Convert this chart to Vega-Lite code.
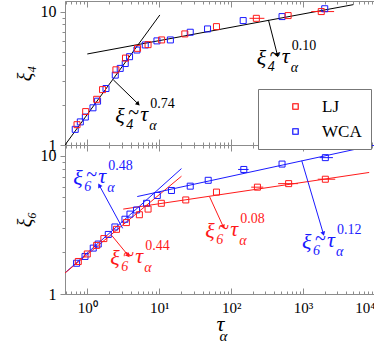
{
  "$schema": "https://vega.github.io/schema/vega-lite/v6.json",
  "background": "white",
  "padding": {"left": 14, "top": 0, "right": 0, "bottom": 0},
  "config": {
    "view": {"stroke": "#8c8c8c", "strokeWidth": 1},
    "font": "Liberation Serif",
    "axis": {"domainColor": "#8c8c8c", "tickColor": "#8c8c8c", "grid": false, "labelFont": "Liberation Serif", "labelColor": "black", "titleFont": "Liberation Serif", "titleFontWeight": "normal", "titleColor": "black"},
    "legend": {"symbolBaseFillColor": "transparent"},
    "concat": {"spacing": 0}
  },
  "datasets": {
    "pts": [
      {"panel": "top", "series": "WCA", "tau": 0.68, "xi": 1.31},
      {"panel": "top", "series": "WCA", "tau": 0.80, "xi": 1.49},
      {"panel": "top", "series": "WCA", "tau": 0.94, "xi": 1.62},
      {"panel": "top", "series": "WCA", "tau": 1.2, "xi": 1.9},
      {"panel": "top", "series": "WCA", "tau": 1.39, "xi": 2.13},
      {"panel": "top", "series": "WCA", "tau": 1.82, "xi": 2.65},
      {"panel": "top", "series": "WCA", "tau": 2.45, "xi": 3.34},
      {"panel": "top", "series": "WCA", "tau": 2.87, "xi": 3.75},
      {"panel": "top", "series": "WCA", "tau": 3.37, "xi": 4.08},
      {"panel": "top", "series": "WCA", "tau": 3.87, "xi": 4.59},
      {"panel": "top", "series": "WCA", "tau": 4.9, "xi": 5.15},
      {"panel": "top", "series": "WCA", "tau": 6.4, "xi": 5.62},
      {"panel": "top", "series": "WCA", "tau": 9.3, "xi": 6.03},
      {"panel": "top", "series": "WCA", "tau": 14.3, "xi": 6.13},
      {"panel": "top", "series": "WCA", "tau": 27, "xi": 7.0},
      {"panel": "top", "series": "WCA", "tau": 47, "xi": 7.41},
      {"panel": "top", "series": "WCA", "tau": 147, "xi": 8.56},
      {"panel": "top", "series": "WCA", "tau": 510, "xi": 9.17},
      {"panel": "top", "series": "WCA", "tau": 2000, "xi": 10.5},
      {"panel": "top", "series": "LJ", "tau": 0.72, "xi": 1.42},
      {"panel": "top", "series": "LJ", "tau": 0.95, "xi": 1.78},
      {"panel": "top", "series": "LJ", "tau": 1.35, "xi": 2.2},
      {"panel": "top", "series": "LJ", "tau": 1.63, "xi": 2.6},
      {"panel": "top", "series": "LJ", "tau": 2.5, "xi": 3.66},
      {"panel": "top", "series": "LJ", "tau": 3.4, "xi": 4.48},
      {"panel": "top", "series": "LJ", "tau": 5.0, "xi": 5.3},
      {"panel": "top", "series": "LJ", "tau": 7.0, "xi": 5.65},
      {"panel": "top", "series": "LJ", "tau": 10.8, "xi": 6.13},
      {"panel": "top", "series": "LJ", "tau": 22.7, "xi": 6.8},
      {"panel": "top", "series": "LJ", "tau": 62.5, "xi": 7.71},
      {"panel": "top", "series": "LJ", "tau": 224, "xi": 8.9, "lo": 180, "hi": 290},
      {"panel": "top", "series": "LJ", "tau": 620, "xi": 9.33},
      {"panel": "top", "series": "LJ", "tau": 1790, "xi": 10.0, "lo": 1300, "hi": 2700},
      {"panel": "bot", "series": "WCA", "tau": 0.71, "xi": 1.67},
      {"panel": "bot", "series": "WCA", "tau": 0.93, "xi": 1.87},
      {"panel": "bot", "series": "WCA", "tau": 1.21, "xi": 2.15},
      {"panel": "bot", "series": "WCA", "tau": 1.42, "xi": 2.3},
      {"panel": "bot", "series": "WCA", "tau": 1.96, "xi": 2.7},
      {"panel": "bot", "series": "WCA", "tau": 2.42, "xi": 3.06},
      {"panel": "bot", "series": "WCA", "tau": 3.34, "xi": 3.48},
      {"panel": "bot", "series": "WCA", "tau": 3.92, "xi": 3.79},
      {"panel": "bot", "series": "WCA", "tau": 4.84, "xi": 4.06},
      {"panel": "bot", "series": "WCA", "tau": 6.67, "xi": 4.54},
      {"panel": "bot", "series": "WCA", "tau": 9.4, "xi": 5.17},
      {"panel": "bot", "series": "WCA", "tau": 14.8, "xi": 5.62},
      {"panel": "bot", "series": "WCA", "tau": 27, "xi": 6.04},
      {"panel": "bot", "series": "WCA", "tau": 48, "xi": 6.66},
      {"panel": "bot", "series": "WCA", "tau": 150, "xi": 7.98, "lo": 125, "hi": 175},
      {"panel": "bot", "series": "WCA", "tau": 510, "xi": 8.73},
      {"panel": "bot", "series": "WCA", "tau": 2040, "xi": 9.72, "lo": 1700, "hi": 2600},
      {"panel": "bot", "series": "LJ", "tau": 0.75, "xi": 1.72},
      {"panel": "bot", "series": "LJ", "tau": 1.0, "xi": 1.95},
      {"panel": "bot", "series": "LJ", "tau": 1.35, "xi": 2.25},
      {"panel": "bot", "series": "LJ", "tau": 1.7, "xi": 2.52},
      {"panel": "bot", "series": "LJ", "tau": 2.55, "xi": 2.94},
      {"panel": "bot", "series": "LJ", "tau": 3.5, "xi": 3.29},
      {"panel": "bot", "series": "LJ", "tau": 5.3, "xi": 3.75},
      {"panel": "bot", "series": "LJ", "tau": 7.0, "xi": 4.12},
      {"panel": "bot", "series": "LJ", "tau": 10.7, "xi": 4.54},
      {"panel": "bot", "series": "LJ", "tau": 23.4, "xi": 4.8},
      {"panel": "bot", "series": "LJ", "tau": 62.5, "xi": 5.47},
      {"panel": "bot", "series": "LJ", "tau": 232, "xi": 5.94, "lo": 190, "hi": 280},
      {"panel": "bot", "series": "LJ", "tau": 630, "xi": 6.3, "lo": 450, "hi": 850},
      {"panel": "bot", "series": "LJ", "tau": 2040, "xi": 6.78, "lo": 1600, "hi": 2800}
    ],
    "fits": [
      {"panel": "top", "fit": "t1", "series": "none", "tau": 0.49, "xi": 1.0},
      {"panel": "top", "fit": "t1", "series": "none", "tau": 10.2, "xi": 9.43},
      {"panel": "top", "fit": "t2", "series": "none", "tau": 1, "xi": 4.81},
      {"panel": "top", "fit": "t2", "series": "none", "tau": 5000, "xi": 11.27},
      {"panel": "bot", "fit": "b1", "series": "WCA", "tau": 0.49, "xi": 1.42},
      {"panel": "bot", "fit": "b1", "series": "WCA", "tau": 20.4, "xi": 8.1},
      {"panel": "bot", "fit": "b2", "series": "LJ", "tau": 0.49, "xi": 1.42},
      {"panel": "bot", "fit": "b2", "series": "LJ", "tau": 20.4, "xi": 7.13},
      {"panel": "bot", "fit": "b3", "series": "WCA", "tau": 4.95, "xi": 5.08},
      {"panel": "bot", "fit": "b3", "series": "WCA", "tau": 10000, "xi": 12.0},
      {"panel": "bot", "fit": "b4", "series": "LJ", "tau": 3.16, "xi": 4.12},
      {"panel": "bot", "fit": "b4", "series": "LJ", "tau": 8300, "xi": 7.59}
    ],
    "arrows": [
      {"panel": "top", "series": "none", "tau": 2.30, "xi": 3.08, "tau2": 5.1, "xi2": 2.03, "dir": 134},
      {"panel": "top", "series": "none", "tau": 330, "xi": 8.66, "tau2": 440, "xi2": 4.72, "dir": 166},
      {"panel": "bot", "series": "WCA", "tau": 3.1, "xi": 2.99, "tau2": 1.47, "xi2": 6.12, "dir": 331},
      {"panel": "bot", "series": "LJ", "tau": 2.18, "xi": 2.66, "tau2": 3.71, "xi2": 1.9, "dir": 140},
      {"panel": "bot", "series": "LJ", "tau": 50, "xi": 5.08, "tau2": 78, "xi2": 3.06, "dir": 155},
      {"panel": "bot", "series": "WCA", "tau": 959, "xi": 9.23, "tau2": 1915, "xi2": 2.73, "dir": 163}
    ],
    "notes": [
      {"panel": "top", "series": "none", "tau": 2.45, "xi": 1.46, "k": "4", "exp": "0.74"},
      {"panel": "top", "series": "none", "tau": 227, "xi": 3.95, "k": "4", "exp": "0.10"},
      {"panel": "bot", "series": "WCA", "tau": 0.64, "xi": 6.12, "k": "6", "exp": "0.48"},
      {"panel": "bot", "series": "LJ", "tau": 2.09, "xi": 1.63, "k": "6", "exp": "0.44"},
      {"panel": "bot", "series": "LJ", "tau": 43.5, "xi": 2.54, "k": "6", "exp": "0.08"},
      {"panel": "bot", "series": "WCA", "tau": 968, "xi": 2.11, "k": "6", "exp": "0.12"}
    ]
  },
  "resolve": {"scale": {"x": "shared", "y": "independent", "color": "shared", "stroke": "shared", "fill": "shared"}},
  "bounds": "flush",
  "vconcat": [
    {
      "width": 310,
      "height": 144,
      "resolve": {"axis": {"x": "independent"}},
      "layer": [
        {
          "data": {"name": "fits"},
          "transform": [{"filter": "datum.panel == 'top'"}],
          "mark": {"type": "line", "color": "black", "strokeWidth": 1, "clip": true},
          "encoding": {
            "x": {"field": "tau", "type": "quantitative", "scale": {"type": "log", "domain": [0.49, 10000], "nice": false},
              "axis": {"orient": "top", "values": [0.5,0.6,0.7,0.8,0.9,1,2,3,4,5,6,7,8,9,10,20,30,40,50,60,70,80,90,100,200,300,400,500,600,700,800,900,1000,2000,3000,4000,5000,6000,7000,8000,9000,10000], "labels": false, "title": null, "domain": false,
                "tickSize": {"condition": {"test": "abs(log(datum.value)/LN10 - round(log(datum.value)/LN10)) < 0.001", "value": -6}, "value": -3}}},
            "y": {"field": "xi", "type": "quantitative", "scale": {"type": "log", "domain": [1, 12], "nice": false}},
            "detail": {"field": "fit"}
          }
        },
        {
          "data": {"name": "pts"},
          "transform": [{"filter": "datum.panel == 'top' && isValid(datum.lo)"}],
          "mark": {"type": "rule", "strokeWidth": 1, "color": "#ff1a1a"},
          "encoding": {
            "x": {"field": "lo", "type": "quantitative", "scale": {"type": "log", "domain": [0.49, 10000], "nice": false}, "axis": null},
            "x2": {"field": "hi"},
            "y": {"field": "xi", "type": "quantitative", "scale": {"type": "log", "domain": [1, 12], "nice": false}}
          }
        },
        {
          "data": {"name": "pts"},
          "transform": [{"filter": "datum.panel == 'top'"}],
          "mark": {"type": "point", "shape": "square", "filled": false, "size": 36, "strokeWidth": 1, "opacity": 1},
          "encoding": {
            "x": {"field": "tau", "type": "quantitative", "scale": {"type": "log", "domain": [0.49, 10000], "nice": false},
              "axis": {"orient": "bottom", "values": [0.5,0.6,0.7,0.8,0.9,1,2,3,4,5,6,7,8,9,10,20,30,40,50,60,70,80,90,100,200,300,400,500,600,700,800,900,1000,2000,3000,4000,5000,6000,7000,8000,9000,10000], "labels": false, "title": null,
                "tickSize": {"condition": {"test": "abs(log(datum.value)/LN10 - round(log(datum.value)/LN10)) < 0.001", "value": -6}, "value": -3}}},
            "y": {"field": "xi", "type": "quantitative", "scale": {"type": "log", "domain": [1, 12], "nice": false},
              "axis": {"values": [1,2,3,4,5,6,7,8,9,10], "labelExpr": "datum.value == 1 ? '1' : datum.value == 10 ? '10' : ''", "labelFontSize": 16, "labelPadding": 4, "labelOverlap": false,
                "title": "ξ₄", "titleFontSize": 20, "titleFontStyle": "italic", "titleAngle": 270, "titleX": -40, "titleY": 72, "titleAlign": "center", "titleBaseline": "middle", "titleAnchor": "middle",
                "tickSize": {"condition": {"test": "abs(log(datum.value)/LN10 - round(log(datum.value)/LN10)) < 0.001", "value": 5}, "value": 3}}},
            "color": {"field": "series", "type": "nominal", "scale": {"domain": ["LJ", "WCA"], "range": ["#ff1a1a", "#1a1aff"]},
              "legend": {"title": null, "orient": "none", "legendX": 193, "legendY": 88, "strokeColor": "#777777", "fillColor": "white", "padding": 9, "labelFont": "Liberation Serif", "labelFontSize": 17, "labelColor": "black", "symbolType": "M-1,-1H1V1H-1Z M-0.8,-0.8V0.8H0.8V-0.8Z", "symbolSize": 36, "symbolStrokeWidth": 0.6, "symbolOffset": 20, "labelOffset": 18, "rowPadding": 7}}
          }
        },
        {
          "data": {"name": "arrows"},
          "transform": [{"filter": "datum.panel == 'top'"}],
          "mark": {"type": "rule", "color": "black", "strokeWidth": 1},
          "encoding": {
            "x": {"field": "tau", "type": "quantitative", "scale": {"type": "log", "domain": [0.49, 10000], "nice": false}, "axis": null},
            "x2": {"field": "tau2"},
            "y": {"field": "xi", "type": "quantitative", "scale": {"type": "log", "domain": [1, 12], "nice": false}},
            "y2": {"field": "xi2"}
          }
        },
        {
          "data": {"name": "arrows"},
          "transform": [{"filter": "datum.panel == 'top'"}],
          "mark": {"type": "point", "shape": "triangle-up", "filled": true, "color": "black", "size": 24, "opacity": 1},
          "encoding": {
            "x": {"field": "tau2", "type": "quantitative", "scale": {"type": "log", "domain": [0.49, 10000], "nice": false}, "axis": null},
            "y": {"field": "xi2", "type": "quantitative", "scale": {"type": "log", "domain": [1, 12], "nice": false}},
            "angle": {"field": "dir", "type": "quantitative", "scale": null}
          }
        },
        {
          "data": {"name": "notes"},
          "transform": [{"filter": "datum.panel == 'top'"}],
          "mark": {"type": "text", "align": "left", "baseline": "alphabetic", "fontSize": 22, "fontStyle": "italic", "color": "black", "text": "ξ"},
          "encoding": {
            "x": {"field": "tau", "type": "quantitative", "scale": {"type": "log", "domain": [0.49, 10000], "nice": false}, "axis": null},
            "y": {"field": "xi", "type": "quantitative", "scale": {"type": "log", "domain": [1, 12], "nice": false}}
          }
        },
        {
          "data": {"name": "notes"},
          "transform": [{"filter": "datum.panel == 'top'"}],
          "mark": {"type": "text", "align": "left", "baseline": "alphabetic", "fontSize": 14, "fontStyle": "italic", "color": "black", "dx": 11, "dy": 6},
          "encoding": {
            "x": {"field": "tau", "type": "quantitative", "scale": {"type": "log", "domain": [0.49, 10000], "nice": false}, "axis": null},
            "y": {"field": "xi", "type": "quantitative", "scale": {"type": "log", "domain": [1, 12], "nice": false}},
            "text": {"field": "k"}
          }
        },
        {
          "data": {"name": "notes"},
          "transform": [{"filter": "datum.panel == 'top'"}],
          "mark": {"type": "text", "align": "left", "baseline": "alphabetic", "fontSize": 20, "color": "black", "dx": 13, "dy": -4, "text": "~"},
          "encoding": {
            "x": {"field": "tau", "type": "quantitative", "scale": {"type": "log", "domain": [0.49, 10000], "nice": false}, "axis": null},
            "y": {"field": "xi", "type": "quantitative", "scale": {"type": "log", "domain": [1, 12], "nice": false}}
          }
        },
        {
          "data": {"name": "notes"},
          "transform": [{"filter": "datum.panel == 'top'"}],
          "mark": {"type": "text", "align": "left", "baseline": "alphabetic", "fontSize": 22, "fontStyle": "italic", "color": "black", "dx": 25, "dy": -2, "text": "τ"},
          "encoding": {
            "x": {"field": "tau", "type": "quantitative", "scale": {"type": "log", "domain": [0.49, 10000], "nice": false}, "axis": null},
            "y": {"field": "xi", "type": "quantitative", "scale": {"type": "log", "domain": [1, 12], "nice": false}}
          }
        },
        {
          "data": {"name": "notes"},
          "transform": [{"filter": "datum.panel == 'top'"}],
          "mark": {"type": "text", "align": "left", "baseline": "alphabetic", "fontSize": 14, "fontStyle": "italic", "color": "black", "dx": 34, "dy": 7, "text": "α"},
          "encoding": {
            "x": {"field": "tau", "type": "quantitative", "scale": {"type": "log", "domain": [0.49, 10000], "nice": false}, "axis": null},
            "y": {"field": "xi", "type": "quantitative", "scale": {"type": "log", "domain": [1, 12], "nice": false}}
          }
        },
        {
          "data": {"name": "notes"},
          "transform": [{"filter": "datum.panel == 'top'"}],
          "mark": {"type": "text", "align": "left", "baseline": "alphabetic", "fontSize": 14, "color": "black", "dx": 35, "dy": -15},
          "encoding": {
            "x": {"field": "tau", "type": "quantitative", "scale": {"type": "log", "domain": [0.49, 10000], "nice": false}, "axis": null},
            "y": {"field": "xi", "type": "quantitative", "scale": {"type": "log", "domain": [1, 12], "nice": false}},
            "text": {"field": "exp"}
          }
        }
      ]
    },
    {
      "width": 310,
      "height": 149,
      "resolve": {"axis": {"x": "independent"}},
      "layer": [
        {
          "data": {"name": "fits"},
          "transform": [{"filter": "datum.panel == 'bot'"}],
          "mark": {"type": "line", "strokeWidth": 1, "clip": true},
          "encoding": {
            "x": {"field": "tau", "type": "quantitative", "scale": {"type": "log", "domain": [0.49, 10000], "nice": false},
              "axis": {"orient": "top", "values": [0.5,0.6,0.7,0.8,0.9,1,2,3,4,5,6,7,8,9,10,20,30,40,50,60,70,80,90,100,200,300,400,500,600,700,800,900,1000,2000,3000,4000,5000,6000,7000,8000,9000,10000], "labels": false, "domain": false, "title": "α", "titleFontSize": 15, "titleFontStyle": "italic", "titleX": 158, "titleY": 195, "titleBaseline": "alphabetic",
                "tickSize": {"condition": {"test": "abs(log(datum.value)/LN10 - round(log(datum.value)/LN10)) < 0.001", "value": -6}, "value": -3}}},
            "y": {"field": "xi", "type": "quantitative", "scale": {"type": "log", "domain": [1, 12], "nice": false}},
            "stroke": {"field": "series", "type": "nominal", "scale": {"domain": ["LJ", "WCA"], "range": ["#ff1a1a", "#1a1aff"]}, "legend": null},
            "detail": {"field": "fit"}
          }
        },
        {
          "data": {"name": "pts"},
          "transform": [{"filter": "datum.panel == 'bot' && isValid(datum.lo)"}],
          "mark": {"type": "rule", "strokeWidth": 1},
          "encoding": {
            "x": {"field": "lo", "type": "quantitative", "scale": {"type": "log", "domain": [0.49, 10000], "nice": false}, "axis": null},
            "x2": {"field": "hi"},
            "y": {"field": "xi", "type": "quantitative", "scale": {"type": "log", "domain": [1, 12], "nice": false}},
            "stroke": {"field": "series", "type": "nominal", "scale": {"domain": ["LJ", "WCA"], "range": ["#ff1a1a", "#1a1aff"]}, "legend": null}
          }
        },
        {
          "data": {"name": "pts"},
          "transform": [{"filter": "datum.panel == 'bot'"}],
          "mark": {"type": "point", "shape": "square", "filled": false, "size": 36, "strokeWidth": 1, "opacity": 1},
          "encoding": {
            "x": {"field": "tau", "type": "quantitative", "scale": {"type": "log", "domain": [0.49, 10000], "nice": false},
              "axis": {"orient": "bottom", "values": [0.5,0.6,0.7,0.8,0.9,1,2,3,4,5,6,7,8,9,10,20,30,40,50,60,70,80,90,100,200,300,400,500,600,700,800,900,1000,2000,3000,4000,5000,6000,7000,8000,9000,10000],
                "labelExpr": "datum.value == 1 ? '10⁰' : datum.value == 10 ? '10¹' : datum.value == 100 ? '10²' : datum.value == 1000 ? '10³' : datum.value == 10000 ? '10⁴' : ''", "labelFontSize": 15, "labelPadding": 12, "labelOverlap": false,
                "title": "τ", "titleFontSize": 22, "titleFontStyle": "italic", "titleX": 155, "titleY": 36, "titleBaseline": "alphabetic",
                "tickSize": {"condition": {"test": "abs(log(datum.value)/LN10 - round(log(datum.value)/LN10)) < 0.001", "value": -6}, "value": -3}}},
            "y": {"field": "xi", "type": "quantitative", "scale": {"type": "log", "domain": [1, 12], "nice": false},
              "axis": {"values": [1,2,3,4,5,6,7,8,9,10], "labelExpr": "datum.value == 1 ? '1' : datum.value == 10 ? '10' : ''", "labelFontSize": 16, "labelPadding": 4, "labelOverlap": false,
                "title": "ξ₆", "titleFontSize": 20, "titleFontStyle": "italic", "titleAngle": 270, "titleX": -40, "titleY": 74, "titleAlign": "center", "titleBaseline": "middle", "titleAnchor": "middle",
                "tickSize": {"condition": {"test": "abs(log(datum.value)/LN10 - round(log(datum.value)/LN10)) < 0.001", "value": 5}, "value": 3}}},
            "color": {"field": "series", "type": "nominal", "scale": {"domain": ["LJ", "WCA"], "range": ["#ff1a1a", "#1a1aff"]}, "legend": null}
          }
        },
        {
          "data": {"name": "arrows"},
          "transform": [{"filter": "datum.panel == 'bot'"}],
          "mark": {"type": "rule", "strokeWidth": 1},
          "encoding": {
            "x": {"field": "tau", "type": "quantitative", "scale": {"type": "log", "domain": [0.49, 10000], "nice": false}, "axis": null},
            "x2": {"field": "tau2"},
            "y": {"field": "xi", "type": "quantitative", "scale": {"type": "log", "domain": [1, 12], "nice": false}},
            "y2": {"field": "xi2"},
            "stroke": {"field": "series", "type": "nominal", "scale": {"domain": ["LJ", "WCA"], "range": ["#ff1a1a", "#1a1aff"]}, "legend": null}
          }
        },
        {
          "data": {"name": "arrows"},
          "transform": [{"filter": "datum.panel == 'bot'"}],
          "mark": {"type": "point", "shape": "triangle-up", "filled": true, "size": 24, "opacity": 1, "strokeWidth": 0},
          "encoding": {
            "x": {"field": "tau2", "type": "quantitative", "scale": {"type": "log", "domain": [0.49, 10000], "nice": false}, "axis": null},
            "y": {"field": "xi2", "type": "quantitative", "scale": {"type": "log", "domain": [1, 12], "nice": false}},
            "angle": {"field": "dir", "type": "quantitative", "scale": null},
            "fill": {"field": "series", "type": "nominal", "scale": {"domain": ["LJ", "WCA"], "range": ["#ff1a1a", "#1a1aff"]}, "legend": null}
          }
        },
        {
          "data": {"name": "notes"},
          "transform": [{"filter": "datum.panel == 'bot'"}],
          "mark": {"type": "text", "align": "left", "baseline": "alphabetic", "fontSize": 22, "fontStyle": "italic", "text": "ξ"},
          "encoding": {
            "x": {"field": "tau", "type": "quantitative", "scale": {"type": "log", "domain": [0.49, 10000], "nice": false}, "axis": null},
            "y": {"field": "xi", "type": "quantitative", "scale": {"type": "log", "domain": [1, 12], "nice": false}},
            "fill": {"field": "series", "type": "nominal", "scale": {"domain": ["LJ", "WCA"], "range": ["#ff1a1a", "#1a1aff"]}, "legend": null}
          }
        },
        {
          "data": {"name": "notes"},
          "transform": [{"filter": "datum.panel == 'bot'"}],
          "mark": {"type": "text", "align": "left", "baseline": "alphabetic", "fontSize": 14, "fontStyle": "italic", "dx": 11, "dy": 6},
          "encoding": {
            "x": {"field": "tau", "type": "quantitative", "scale": {"type": "log", "domain": [0.49, 10000], "nice": false}, "axis": null},
            "y": {"field": "xi", "type": "quantitative", "scale": {"type": "log", "domain": [1, 12], "nice": false}},
            "text": {"field": "k"},
            "fill": {"field": "series", "type": "nominal", "scale": {"domain": ["LJ", "WCA"], "range": ["#ff1a1a", "#1a1aff"]}, "legend": null}
          }
        },
        {
          "data": {"name": "notes"},
          "transform": [{"filter": "datum.panel == 'bot'"}],
          "mark": {"type": "text", "align": "left", "baseline": "alphabetic", "fontSize": 20, "dx": 13, "dy": -4, "text": "~"},
          "encoding": {
            "x": {"field": "tau", "type": "quantitative", "scale": {"type": "log", "domain": [0.49, 10000], "nice": false}, "axis": null},
            "y": {"field": "xi", "type": "quantitative", "scale": {"type": "log", "domain": [1, 12], "nice": false}},
            "fill": {"field": "series", "type": "nominal", "scale": {"domain": ["LJ", "WCA"], "range": ["#ff1a1a", "#1a1aff"]}, "legend": null}
          }
        },
        {
          "data": {"name": "notes"},
          "transform": [{"filter": "datum.panel == 'bot'"}],
          "mark": {"type": "text", "align": "left", "baseline": "alphabetic", "fontSize": 22, "fontStyle": "italic", "dx": 25, "dy": -2, "text": "τ"},
          "encoding": {
            "x": {"field": "tau", "type": "quantitative", "scale": {"type": "log", "domain": [0.49, 10000], "nice": false}, "axis": null},
            "y": {"field": "xi", "type": "quantitative", "scale": {"type": "log", "domain": [1, 12], "nice": false}},
            "fill": {"field": "series", "type": "nominal", "scale": {"domain": ["LJ", "WCA"], "range": ["#ff1a1a", "#1a1aff"]}, "legend": null}
          }
        },
        {
          "data": {"name": "notes"},
          "transform": [{"filter": "datum.panel == 'bot'"}],
          "mark": {"type": "text", "align": "left", "baseline": "alphabetic", "fontSize": 14, "fontStyle": "italic", "dx": 34, "dy": 7, "text": "α"},
          "encoding": {
            "x": {"field": "tau", "type": "quantitative", "scale": {"type": "log", "domain": [0.49, 10000], "nice": false}, "axis": null},
            "y": {"field": "xi", "type": "quantitative", "scale": {"type": "log", "domain": [1, 12], "nice": false}},
            "fill": {"field": "series", "type": "nominal", "scale": {"domain": ["LJ", "WCA"], "range": ["#ff1a1a", "#1a1aff"]}, "legend": null}
          }
        },
        {
          "data": {"name": "notes"},
          "transform": [{"filter": "datum.panel == 'bot'"}],
          "mark": {"type": "text", "align": "left", "baseline": "alphabetic", "fontSize": 14, "dx": 35, "dy": -15},
          "encoding": {
            "x": {"field": "tau", "type": "quantitative", "scale": {"type": "log", "domain": [0.49, 10000], "nice": false}, "axis": null},
            "y": {"field": "xi", "type": "quantitative", "scale": {"type": "log", "domain": [1, 12], "nice": false}},
            "text": {"field": "exp"},
            "fill": {"field": "series", "type": "nominal", "scale": {"domain": ["LJ", "WCA"], "range": ["#ff1a1a", "#1a1aff"]}, "legend": null}
          }
        }
      ]
    }
  ]
}
